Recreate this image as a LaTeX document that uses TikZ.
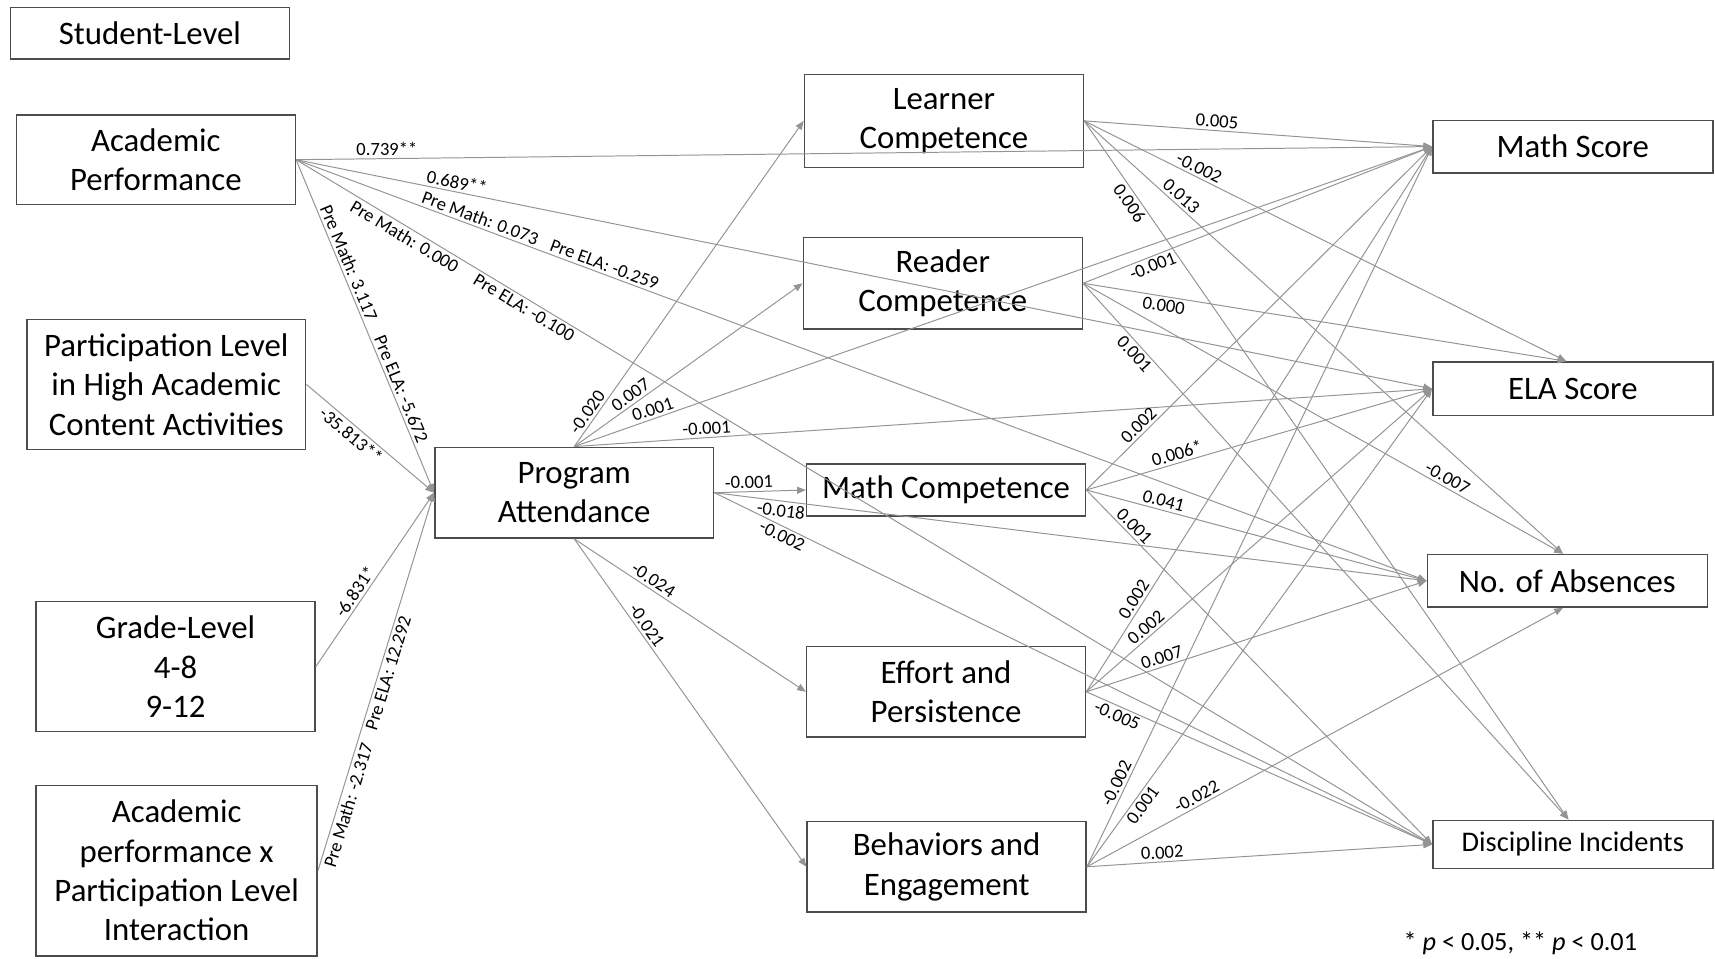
\documentclass[tikz,border=0pt]{standalone}
\usepackage{fontspec}
\setmainfont{Carlito}
\usetikzlibrary{arrows.meta}
\newcommand\bxfont{\fontsize{15}{18}\selectfont}
\newcommand\lbfont{\fontsize{8.5}{10}\selectfont}
\tikzset{
  box/.style={draw=black!70, line width=0.7pt, align=center, inner sep=0pt, minimum width=127.5pt, font=\bxfont},
  lnk/.style={draw=black!42, line width=0.45pt, -{Triangle[length=4pt,width=3.2pt]}},
  lbl/.style={sloped, inner sep=1.2pt, font=\lbfont},
}

\begin{document}
\begin{tikzpicture}[x=0.5pt, y=-0.5pt]
		\useasboundingbox (0,0) rectangle (1568,876);
		
		%%%%% BOXES %%%%%
		\node[box, minimum height=23.5pt] (stu) at (137,30.5) {Student-Level};
		\node[box, minimum height=41pt] (ap) at (142.5,146) {Academic\\Performance};
		\node[box, minimum height=59.5pt] (pl) at (152,351.5) {Participation Level\\in High Academic\\Content Activities};
		\node[box, minimum height=59.5pt] (gl) at (160.5,609.5) {Grade-Level\\4-8\\9-12};
		\node[box, minimum height=78pt, minimum width=128.5pt] (ia) at (161.5,796) {Academic\\performance x\\Participation Level\\Interaction};
		
		\node[box, minimum height=41.5pt] (pa) at (525,450.5) {Program\\Attendance};
		
		\node[box, minimum height=42.5pt] (lc) at (863,110.5) {Learner\\Competence};
		\node[box, minimum height=42pt] (rc) at (862,259) {Reader\\Competence};
		\node[box, minimum height=24pt] (mc) at (865,448) {Math Competence};
		\node[box, minimum height=41.5pt] (ep) at (865,632.5) {Effort and\\Persistence};
		\node[box, minimum height=41.5pt] (be) at (865.5,792.5) {Behaviors and\\Engagement};
		
		\node[box, minimum height=24pt, minimum width=128pt] (ms) at (1438,134) {Math Score};
		\node[box, minimum height=24.5pt, minimum width=128pt] (es) at (1438,355.5) {ELA Score};
		\node[box, minimum height=24pt, minimum width=128pt] (ab) at (1433,531) {No. of Absences};
		\node[box, minimum height=22pt, minimum width=128pt, font=\fontsize{13}{15}\selectfont] (di) at (1438,772) {Discipline Incidents};
		
		\node[font=\fontsize{12}{14}\selectfont] (note) at (1390,862) {* \textit{p} < 0.05, ** \textit{p} < 0.01};
		
		%%%%% STUDENT-LEVEL PATHS %%%%%
		\draw[lnk] (ap.east) -- node[lbl, above, pos=0.08] {0.739**} (ms.west);
		\draw[lnk] (ap.east) -- node[lbl, above, pos=0.14] {0.689**} (es.west);
		\draw[lnk] (ap.east) -- node[lbl, above, pos=0.16] {Pre Math: 0.073} node[lbl, above, pos=0.27] {Pre ELA: -0.259} (ab.west);
		\draw[lnk] (ap.east) -- node[lbl, below, pos=0.1] {Pre Math: 0.000} node[lbl, below, pos=0.205] {Pre ELA: -0.100} (di.west);
		\draw[lnk] (ap.east) -- node[lbl, above, pos=0.32] {Pre Math: 3.117} node[lbl, above, pos=0.7] {Pre ELA: -5.672} (pa.west);
		\draw[lnk] (pl.east) -- node[lbl, below, pos=0.4] {-35.813**} (pa.west);
		\draw[lnk] (gl.east) -- node[lbl, above, pos=0.4] {-6.831*} (pa.west);
		\draw[lnk] (ia.east) -- node[lbl, below, pos=0.18] {Pre Math: -2.317} node[lbl, below, pos=0.53] {Pre ELA: 12.292} (pa.west);
		
		%%%%% PROGRAM ATTENDANCE %%%%%
		\draw[lnk] (pa.north) -- node[lbl, above, pos=0.09] {-0.020} (lc.west);
		\draw[lnk] (pa.north) -- node[lbl, above, pos=0.27] {0.007} (rc.west);
		\draw[lnk] (pa.north) -- node[lbl, above, pos=0.095] {0.001} (ms.west);
		\draw[lnk] (pa.north) -- node[lbl, above, pos=0.155] {-0.001} (es.west);
		\draw[lnk] (pa.east) -- node[lbl, above, pos=0.38] {-0.001} (mc.west);
		\draw[lnk] (pa.east) -- node[lbl, below, pos=0.095] {-0.018} (ab.west);
		\draw[lnk] (pa.east) -- node[lbl, below, pos=0.1] {-0.002} (di.west);
		\draw[lnk] (pa.south) -- node[lbl, above, pos=0.32] {-0.024} (ep.west);
		\draw[lnk] (pa.south) -- node[lbl, above, pos=0.28] {-0.021} (be.west);
		
		%%%%% MEDIATORS TO OUTCOMES %%%%%
		\draw[lnk] (lc.east) -- node[lbl, above, pos=0.38] {0.005} (ms.west);
		\draw[lnk] (lc.east) -- node[lbl, above, pos=0.23] {-0.002} ([xshift=-3pt]es.north);
		\draw[lnk] (lc.east) -- node[lbl, above, pos=0.19] {0.013} ([xshift=-2pt]ab.north);
		\draw[lnk] (lc.east) -- node[lbl, below, pos=0.11] {0.006} ([xshift=-2pt]di.north);
		
		\draw[lnk] (rc.east) -- node[lbl, below, pos=0.19] {-0.001} (ms.west);
		\draw[lnk] (rc.east) -- node[lbl, below, pos=0.17] {0.000} ([xshift=-3pt]es.north);
		\draw[lnk] (rc.east) -- node[lbl, below, pos=0.12] {0.001} ([xshift=-2pt]di.north);
		\draw[lnk] (rc.east) -- node[lbl, above, pos=0.75] {-0.007} ([xshift=-2pt]ab.north);
		
		\draw[lnk] (mc.east) -- node[lbl, above, pos=0.17] {0.002} (ms.west);
		\draw[lnk] (mc.east) -- node[lbl, above, pos=0.27] {0.006*} (es.west);
		\draw[lnk] (mc.east) -- node[lbl, above, pos=0.22] {0.041} (ab.west);
		\draw[lnk] (mc.east) -- node[lbl, above, pos=0.12] {0.001} (di.west);
		
		\draw[lnk] (ep.east) -- node[lbl, above, pos=0.16] {0.002} (ms.west);
		\draw[lnk] (ep.east) -- node[lbl, above, pos=0.19] {0.002} (es.west);
		\draw[lnk] (ep.east) -- node[lbl, above, pos=0.23] {0.007} (ab.west);
		\draw[lnk] (ep.east) -- node[lbl, below, pos=0.1] {-0.005} (di.west);
		
		\draw[lnk] (be.east) -- node[lbl, above, pos=0.11] {-0.002} (ms.west);
		\draw[lnk] (be.east) -- node[lbl, below, pos=0.14] {0.001} (es.west);
		\draw[lnk] (be.east) -- node[lbl, above, pos=0.24] {-0.022} ([xshift=-2pt]ab.south);
		\draw[lnk] (be.east) -- node[lbl, above, pos=0.22] {0.002} (di.west);
		
\end{tikzpicture}
\end{document}
